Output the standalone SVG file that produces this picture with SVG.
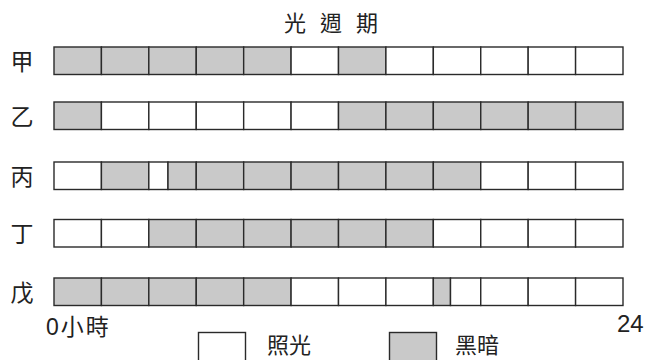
<svg xmlns="http://www.w3.org/2000/svg" width="645" height="360" viewBox="0 0 645 360">
<style>
.c{stroke:#2a2a2a;stroke-width:1.4}
.L{fill:#ffffff}
.D{fill:#c9c9c9}
.t{font-family:"Noto Sans CJK TC","Noto Sans CJK SC",sans-serif;fill:#222}
.n{font-family:"Liberation Sans","Noto Sans CJK TC",sans-serif;fill:#222}
</style>
<rect width="645" height="360" fill="#fff"/>
<text class="t" x="284" y="31" font-size="22" letter-spacing="14">光週期</text>

<g id="row-jia">
<text class="t" x="22" y="69.5" font-size="23" text-anchor="middle">甲</text>
<g class="c">
<rect class="D" x="54" y="47" width="47.42" height="27.5"/>
<rect class="D" x="101.42" y="47" width="47.42" height="27.5"/>
<rect class="D" x="148.83" y="47" width="47.42" height="27.5"/>
<rect class="D" x="196.25" y="47" width="47.42" height="27.5"/>
<rect class="D" x="243.67" y="47" width="47.42" height="27.5"/>
<rect class="L" x="291.08" y="47" width="47.42" height="27.5"/>
<rect class="D" x="338.5" y="47" width="47.42" height="27.5"/>
<rect class="L" x="385.92" y="47" width="47.42" height="27.5"/>
<rect class="L" x="433.33" y="47" width="47.42" height="27.5"/>
<rect class="L" x="480.75" y="47" width="47.42" height="27.5"/>
<rect class="L" x="528.17" y="47" width="47.42" height="27.5"/>
<rect class="L" x="575.58" y="47" width="47.42" height="27.5"/>
</g>
</g>

<g id="row-yi">
<text class="t" x="22" y="124.5" font-size="23" text-anchor="middle">乙</text>
<g class="c">
<rect class="D" x="54" y="102" width="47.42" height="27.5"/>
<rect class="L" x="101.42" y="102" width="47.42" height="27.5"/>
<rect class="L" x="148.83" y="102" width="47.42" height="27.5"/>
<rect class="L" x="196.25" y="102" width="47.42" height="27.5"/>
<rect class="L" x="243.67" y="102" width="47.42" height="27.5"/>
<rect class="L" x="291.08" y="102" width="47.42" height="27.5"/>
<rect class="D" x="338.5" y="102" width="47.42" height="27.5"/>
<rect class="D" x="385.92" y="102" width="47.42" height="27.5"/>
<rect class="D" x="433.33" y="102" width="47.42" height="27.5"/>
<rect class="D" x="480.75" y="102" width="47.42" height="27.5"/>
<rect class="D" x="528.17" y="102" width="47.42" height="27.5"/>
<rect class="D" x="575.58" y="102" width="47.42" height="27.5"/>
</g>
</g>

<g id="row-bing">
<text class="t" x="22" y="184.5" font-size="23" text-anchor="middle">丙</text>
<g class="c">
<rect class="L" x="54" y="162" width="47.42" height="27.5"/>
<rect class="D" x="101.42" y="162" width="47.42" height="27.5"/>
<rect class="L" x="148.83" y="162" width="19.17" height="27.5"/>
<rect class="D" x="168" y="162" width="28.25" height="27.5"/>
<rect class="D" x="196.25" y="162" width="47.42" height="27.5"/>
<rect class="D" x="243.67" y="162" width="47.42" height="27.5"/>
<rect class="D" x="291.08" y="162" width="47.42" height="27.5"/>
<rect class="D" x="338.5" y="162" width="47.42" height="27.5"/>
<rect class="D" x="385.92" y="162" width="47.42" height="27.5"/>
<rect class="D" x="433.33" y="162" width="47.42" height="27.5"/>
<rect class="L" x="480.75" y="162" width="47.42" height="27.5"/>
<rect class="L" x="528.17" y="162" width="47.42" height="27.5"/>
<rect class="L" x="575.58" y="162" width="47.42" height="27.5"/>
</g>
</g>

<g id="row-ding">
<text class="t" x="22" y="242" font-size="23" text-anchor="middle">丁</text>
<g class="c">
<rect class="L" x="54" y="219.5" width="47.42" height="27.5"/>
<rect class="L" x="101.42" y="219.5" width="47.42" height="27.5"/>
<rect class="D" x="148.83" y="219.5" width="47.42" height="27.5"/>
<rect class="D" x="196.25" y="219.5" width="47.42" height="27.5"/>
<rect class="D" x="243.67" y="219.5" width="47.42" height="27.5"/>
<rect class="D" x="291.08" y="219.5" width="47.42" height="27.5"/>
<rect class="D" x="338.5" y="219.5" width="47.42" height="27.5"/>
<rect class="D" x="385.92" y="219.5" width="47.42" height="27.5"/>
<rect class="L" x="433.33" y="219.5" width="47.42" height="27.5"/>
<rect class="L" x="480.75" y="219.5" width="47.42" height="27.5"/>
<rect class="L" x="528.17" y="219.5" width="47.42" height="27.5"/>
<rect class="L" x="575.58" y="219.5" width="47.42" height="27.5"/>
</g>
</g>

<g id="row-wu">
<text class="t" x="22" y="300.5" font-size="23" text-anchor="middle">戊</text>
<g class="c">
<rect class="D" x="54" y="278" width="47.42" height="27.5"/>
<rect class="D" x="101.42" y="278" width="47.42" height="27.5"/>
<rect class="D" x="148.83" y="278" width="47.42" height="27.5"/>
<rect class="D" x="196.25" y="278" width="47.42" height="27.5"/>
<rect class="D" x="243.67" y="278" width="47.42" height="27.5"/>
<rect class="L" x="291.08" y="278" width="47.42" height="27.5"/>
<rect class="L" x="338.5" y="278" width="47.42" height="27.5"/>
<rect class="L" x="385.92" y="278" width="47.42" height="27.5"/>
<rect class="D" x="433.33" y="278" width="17.17" height="27.5"/>
<rect class="L" x="450.5" y="278" width="30.25" height="27.5"/>
<rect class="L" x="480.75" y="278" width="47.42" height="27.5"/>
<rect class="L" x="528.17" y="278" width="47.42" height="27.5"/>
<rect class="L" x="575.58" y="278" width="47.42" height="27.5"/>
</g>
</g>

<g id="axis">
<text class="n" x="46" y="335" font-size="23">0<tspan class="t" font-size="23" dx="2" letter-spacing="2">小時</tspan></text>
<text class="n" x="617" y="332" font-size="24">24</text>
</g>

<g id="legend-light">
<rect class="c L" x="198.5" y="332.5" width="47" height="40"/>
<text class="t" x="267" y="353" font-size="22">照光</text>
</g>
<g id="legend-dark">
<rect class="c D" x="389.5" y="332.5" width="47" height="40"/>
<text class="t" x="455" y="353" font-size="22">黑暗</text>
</g>
</svg>
